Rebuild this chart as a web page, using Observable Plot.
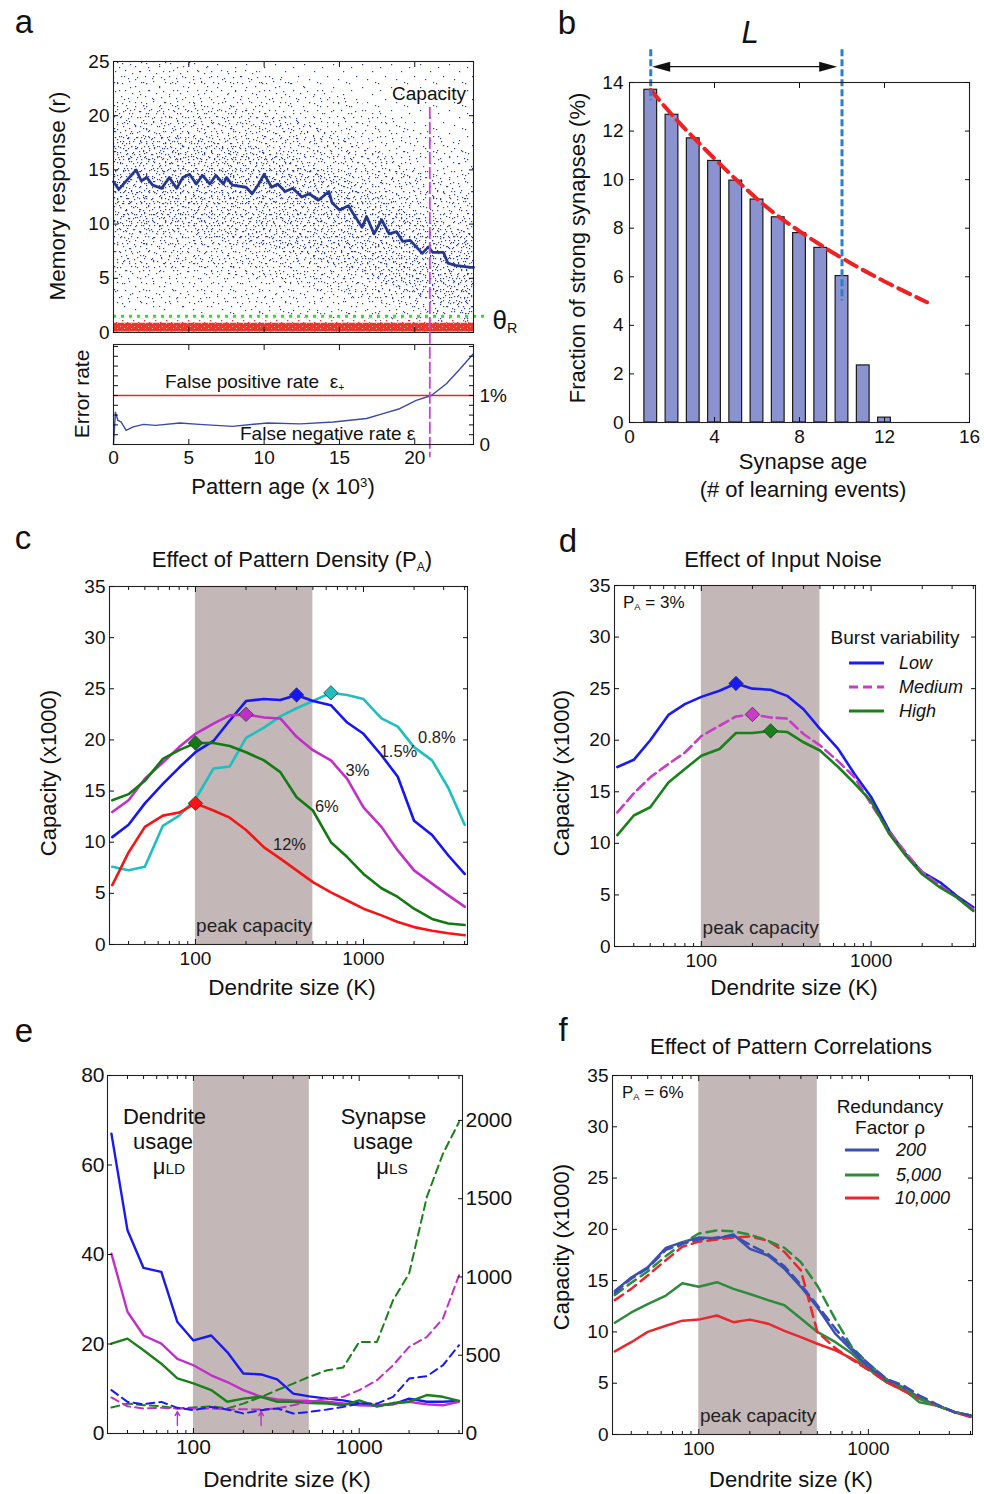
<!DOCTYPE html>
<html><head><meta charset="utf-8">
<script src="https://cdn.jsdelivr.net/npm/d3@7"></script>
<script src="https://cdn.jsdelivr.net/npm/@observablehq/plot@0.6"></script>
<style>
html,body{margin:0;padding:0;background:#fff}
#fig{position:relative;width:984px;height:1494px;overflow:hidden;font-family:"Liberation Sans",Arial,Helvetica,sans-serif;color:#111;background:#fff}
#fig svg.p{position:absolute}
.t{position:absolute;white-space:nowrap;line-height:1}
.t sub{font-size:55%;vertical-align:-0.3em;line-height:0}
.t sup{font-size:60%;vertical-align:0.55em;line-height:0}
</style></head><body>
<svg width="0" height="0" style="position:absolute">
<defs>
<pattern id="bV" width="29" height="23" patternUnits="userSpaceOnUse"><g fill="#2c3e9e">
<rect x="3" y="4" width="1.2" height="1.2"/><rect x="14" y="1" width="1.2" height="1.2"/><rect x="24" y="8" width="1.2" height="1.2"/><rect x="8" y="13" width="1.2" height="1.2"/><rect x="19" y="16" width="1.2" height="1.2"/><rect x="1" y="20" width="1.2" height="1.2"/><rect x="27" y="19" width="1.2" height="1.2"/></g></pattern>
<pattern id="bS" width="24" height="20" patternUnits="userSpaceOnUse"><g fill="#2c3e9e">
<rect x="2" y="3" width="1.2" height="1.2"/><rect x="9" y="1" width="1.2" height="1.2"/><rect x="15" y="6" width="1.2" height="1.2"/><rect x="21" y="2" width="1.2" height="1.2"/><rect x="5" y="10" width="1.2" height="1.2"/><rect x="12" y="13" width="1.2" height="1.2"/><rect x="19" y="11" width="1.2" height="1.2"/><rect x="1" y="16" width="1.2" height="1.2"/><rect x="8" y="18" width="1.2" height="1.2"/><rect x="17" y="17" width="1.2" height="1.2"/></g></pattern>
<pattern id="bM" width="17" height="15" patternUnits="userSpaceOnUse"><g fill="#2c3e9e">
<rect x="1" y="2" width="1.2" height="1.2"/><rect x="7" y="5" width="1.2" height="1.2"/><rect x="12" y="1" width="1.2" height="1.2"/><rect x="15" y="9" width="1.2" height="1.2"/><rect x="4" y="11" width="1.2" height="1.2"/><rect x="10" y="13" width="1.2" height="1.2"/><rect x="8" y="8" width="1.2" height="1.2"/></g></pattern>
<pattern id="bD" width="13" height="11" patternUnits="userSpaceOnUse"><g fill="#2c3e9e">
<rect x="3" y="2" width="1.2" height="1.2"/><rect x="9" y="4" width="1.2" height="1.2"/><rect x="1" y="7" width="1.2" height="1.2"/><rect x="6" y="9" width="1.2" height="1.2"/><rect x="11" y="9" width="1.2" height="1.2"/></g></pattern>
<pattern id="rS" width="11" height="9" patternUnits="userSpaceOnUse"><g fill="#e8372c">
<rect x="1" y="1" width="1.3" height="1.3"/><rect x="6" y="3" width="1.3" height="1.3"/><rect x="9" y="7" width="1.3" height="1.3"/><rect x="3" y="6" width="1.3" height="1.3"/></g></pattern>
<pattern id="rD" width="7" height="5" patternUnits="userSpaceOnUse"><rect width="7" height="5" fill="#e8372c"/><g fill="#f6b0a8">
<rect x="1" y="1" width="1" height="1"/><rect x="5" y="3" width="1" height="1"/></g></pattern>
</defs></svg>
<div id="fig"></div>
<script>
// ================= DATA =================
// Panel a: memory response vs pattern age (x10^3)
const meanAge = [0,0.35,1.5,1.84,2.2,2.6,3.2,3.7,4.2,4.6,5.05,5.5,5.9,6.4,6.8,7.3,7.5,7.9,8.8,9.2,9.6,10.0,10.5,10.9,11.4,11.9,12.5,13.0,13.6,14.3,14.5,15.0,15.6,15.9,16.5,16.8,17.3,17.8,18.3,18.8,19.2,19.7,20.5,20.9,21.2,21.9,22.2,22.7,23.7,23.9];
const meanResp = [13.9,13.2,15.0,14.0,14.3,13.6,13.3,14.3,13.3,14.3,14.6,13.7,14.5,13.7,14.5,13.7,14.3,13.6,13.4,12.8,13.6,14.6,13.4,13.7,13.0,13.3,12.5,12.8,12.2,13.0,12.0,11.3,11.7,11.0,9.7,10.7,9.1,10.4,9.1,9.3,8.4,8.5,7.3,7.9,7.4,7.4,6.4,6.2,6.0,6.0];
// scatter cloud extent (very sparse / sparse / medium / dense density bands)
const cloudAge  = [0, 5, 10, 15, 20, 23.9];
const vsparseLo = [2.0, 1.8, 1.5, 1.2, 0.9, 0.8];
const vsparseHi = [25, 25, 25, 25, 25, 25];
const sparseLo  = [2.5, 2.2, 1.8, 1.4, 1.0, 0.8];
const sparseHi  = [25, 25, 24, 22, 19, 17];
const midLo     = [5.5, 5.5, 5, 3.5, 2, 1];
const midHi     = [21, 21, 20.5, 18.5, 15, 13];
const denseLo   = [9, 9, 8, 6, 3.5, 1.5];
const denseHi   = [18, 18, 17, 14.5, 11, 9];
// unlearned-pattern (noise) responses
const noiseAge = [0, 23.9];
const noiseLo = [0.05, 0.05];
const noiseHi = [0.85, 0.85];
const noiseSparseHi = [1.3, 1.3];
const threshold = 1.5;       // θR
const capacityAge = 21.0;    // capacity (x10^3)
// error rates (%)
const errAge  = [0,0.13,0.29,0.5,0.84,1.3,2.0,2.8,4.4,5.7,7.9,10.2,12.4,14.6,16.8,17.9,19.0,20.1,21.1,22.1,23.0,23.86];
const errRate = [0,0.66,0.49,0.46,0.29,0.36,0.41,0.39,0.44,0.41,0.37,0.44,0.42,0.46,0.53,0.63,0.73,0.90,1.0,1.24,1.54,1.84];
const fpRate = 1;

// Panel b: fraction of strong synapses vs synapse age
const synAge = [1,2,3,4,5,6,7,8,9,10,11,12];
const strongFrac = [13.7,12.67,11.7,10.77,9.96,9.18,8.45,7.8,7.19,6.03,2.35,0.2];
const fitAge = [1, 2, 3.33, 4.9, 6.48, 8.05, 9.94, 11.98, 14.0];
const fitFrac = [13.7, 12.67, 11.45, 10.1, 8.85, 7.85, 6.8, 5.82, 4.95];
const Lrange = [1, 10];

// Panels c-f: dendrite sizes (K)
const K = [32,40,50,64,80,100,128,160,200,256,320,400,500,640,800,1000,1280,1600,2000,2560,3200,4000];
const peakBand = [100, 500];
// c: pattern density
const cap08 = [7.6,7.25,7.6,11.6,12.6,14.2,17.2,17.4,20.2,21.2,22.3,23.1,23.8,24.6,24.4,24.0,22.1,21.3,19.3,18.0,15.3,11.7];
const cap15 = [10.5,11.7,13.8,15.7,17.3,18.8,19.9,21.9,23.8,24.0,23.9,24.4,23.8,23.4,21.7,20.6,18.5,16.4,12.1,10.7,8.7,6.9];
const cap3  = [12.95,14.1,16.2,17.8,19.3,20.6,21.6,22.4,22.5,22.2,22.1,20.3,19.0,18.0,16.2,13.4,11.5,9.2,7.25,5.95,4.8,3.7];
const cap6  = [14.1,14.7,16.0,18.15,19.0,19.7,19.7,19.4,18.8,18.0,16.85,14.4,13.1,10.0,8.55,6.9,5.5,4.65,3.5,2.5,2.05,1.9];
const cap12 = [5.8,9.0,11.5,12.6,12.9,13.8,13.1,12.4,11.2,9.5,8.4,7.25,6.1,5.1,4.3,3.5,2.85,2.2,1.7,1.35,1.1,0.9];
const pctLabels = ["0.8%","1.5%","3%","6%","12%"];
const pctAtK = [2730, 1615, 920, 605, 363];
const pctAtV = [20.2, 18.8, 17.0, 13.5, 9.8];
// d: input noise
const lowVar  = [17.4,18.1,20.0,22.45,23.5,24.2,24.8,25.5,25.0,24.9,24.3,23.0,21.1,19.15,16.7,14.5,11.2,8.95,7.2,6.2,4.9,3.8];
const medVar  = [13.0,14.85,16.4,17.7,18.8,20.4,21.4,22.3,22.5,22.2,22.1,20.6,19.5,17.95,16.4,13.8,11.1,9.1,7.2,5.9,4.75,3.6];
const highVar = [10.8,12.7,13.5,15.9,17.2,18.5,19.15,20.7,20.7,20.9,20.8,19.8,19.0,17.4,15.8,14.1,10.9,8.8,7.0,5.7,4.75,3.45];
// e: dendrite usage (left axis) and synapse usage (right axis)
const dendBlue = [67.0,45.4,37.0,36.1,24.9,20.8,21.9,18.2,13.4,13.2,12.1,8.9,8.3,7.8,7.4,6.7,6.3,6.5,7.8,7.1,7.1,7.3];
const dendMag  = [40.2,27.2,21.9,20.1,16.7,15.25,13.0,11.5,9.7,8.2,7.6,7.4,7.3,7.1,6.7,6.3,6.2,6.7,7.1,6.5,6.3,7.1];
const dendGrn  = [20.1,21.2,18.6,15.6,12.3,11.2,9.7,7.1,7.8,8.2,7.1,7.1,6.8,6.7,6.3,7.4,6.0,6.8,7.1,8.6,8.2,7.3];
const synGrn   = [166,191,181,174,160,166,174,160,191,234,277,319,362,404,421,585,585,851,1021,1511,1787,1989];
const synMag   = [230,174,160,164,160,160,160,153,155,153,160,181,202,223,234,277,340,436,553,617,734,1011];
const synBlue  = [277,202,187,202,164,149,170,153,128,149,160,128,138,153,170,191,191,234,351,366,436,564];
const arrowK = [80, 256];
// f: pattern correlations
const red200 = [14.0,15.3,16.3,18.2,18.75,19.2,19.1,19.5,18.1,17.45,16.15,14.4,12.4,9.8,8.2,6.6,5.3,4.6,3.6,2.8,2.2,1.85];
const red5k  = [10.9,11.9,12.7,13.55,14.75,14.4,14.85,14.2,13.7,13.1,12.6,11.3,10.0,9.0,7.9,6.4,5.1,4.45,3.15,2.8,2.2,1.85];
const red10k = [8.1,9.0,10.0,10.6,11.1,11.2,11.6,10.95,11.2,10.8,10.1,9.5,8.85,8.2,7.4,6.4,5.1,4.3,3.5,2.8,2.2,1.7];
const red200d = [13.8,15.2,16.2,18.0,18.6,19.0,19.2,19.4,18.5,17.6,16.4,14.6,12.6,10.3,8.4,6.9,5.4,4.8,3.8,2.9,2.2,1.85];
const red5kd  = [13.6,14.8,15.9,17.4,18.6,19.6,19.9,19.8,19.5,18.9,18.2,16.8,14.5,11.2,8.5,6.9,5.4,4.6,3.5,2.8,2.2,1.85];
const red10kd = [13.1,14.2,15.5,17.0,18.3,18.8,19.0,19.2,19.3,18.9,17.8,16.0,10.0,8.4,7.3,6.3,5.1,4.3,3.5,2.8,2.2,1.75];

// ================= HELPERS =================
const FONT = '"Liberation Sans", Arial, Helvetica, sans-serif';
const fig = document.getElementById("fig");
const st = fs => ({fontFamily: FONT, fontSize: fs + "px", background: "transparent", color: "#111", overflow: "visible"});
const rows = (xs, ys) => xs.map((x, i) => ({x, y: ys[i]}));
const peak = (arr) => { const i = d3.maxIndex(arr); return [{x: K[i], y: arr[i]}]; };
const noLbl = () => "";
const fmtD = d3.format("d");
const logMinor = [40,50,60,70,80,90,200,300,400,500,600,700,800,900,2000,3000,4000];

function put(svg, left, top) {
  svg.classList.add("p"); svg.style.left = left + "px"; svg.style.top = top + "px"; fig.appendChild(svg);
}
function txt(html, x, y, size, o = {}) {
  const d = document.createElement("div"); d.className = "t"; d.innerHTML = html;
  d.style.left = x + "px"; d.style.top = y + "px"; d.style.fontSize = size + "px";
  const ax = o.anchor === "start" ? "0" : "-50%";
  d.style.transform = `translate(${ax},-50%)` + (o.rotate ? ` rotate(${o.rotate}deg)` : "");
  if (o.italic) d.style.fontStyle = "italic";
  fig.appendChild(d);
}
function legendLine(x1, x2, y, color, dash, w = 3) {
  const s = d3.create("svg").attr("width", x2 - x1 + 4).attr("height", 8)
    .style("position", "absolute").style("left", (x1 - 2) + "px").style("top", (y - 4) + "px");
  s.append("line").attr("x1", 2).attr("x2", x2 - x1 + 2).attr("y1", 4).attr("y2", 4)
    .attr("stroke", color).attr("stroke-width", w).attr("stroke-dasharray", dash || null);
  fig.appendChild(s.node());
}
function axes({xt, xf = noLbl, xm, yt, yf = noLbl, ym, yr = true, yrt, yrf = noLbl, T = 5, P = 4, PX}) {
  const a = [
    Plot.axisX({anchor: "bottom", ticks: xt, tickSize: -T, tickPadding: (PX ?? P) + T, tickFormat: xf, label: null}),
    Plot.axisX({anchor: "top", ticks: xt, tickSize: -T, tickFormat: noLbl, label: null}),
    Plot.axisY({anchor: "left", ticks: yt, tickSize: -T, tickPadding: P + T, tickFormat: yf, label: null})
  ];
  if (xm) a.push(
    Plot.axisX({anchor: "bottom", ticks: xm, tickSize: -3, tickFormat: noLbl, label: null}),
    Plot.axisX({anchor: "top", ticks: xm, tickSize: -3, tickFormat: noLbl, label: null}));
  if (ym) a.push(Plot.axisY({anchor: "left", ticks: ym, tickSize: -3, tickFormat: noLbl, label: null}));
  if (yr) a.push(Plot.axisY({anchor: "right", ticks: yrt || yt, tickSize: -T, tickPadding: P + T, tickFormat: yrf, label: null}));
  return a;
}
const frame = () => Plot.frame({stroke: "#222", strokeWidth: 1.1});
const bandMark = (fill = "#c4b7b7") => Plot.rect([{lo: peakBand[0], hi: peakBand[1]}], {x1: "lo", x2: "hi", fill});
const peakText = () => Plot.text(["peak capacity"], {x: Math.sqrt(peakBand[0] * peakBand[1]), frameAnchor: "bottom", dy: -13, fontSize: 19, fill: "#222"});

// ================= PANEL A =================
const cloud = cloudAge.map((age, i) => ({age, vLo: vsparseLo[i], vHi: vsparseHi[i], sLo: sparseLo[i], sHi: sparseHi[i], mLo: midLo[i], mHi: midHi[i], dLo: denseLo[i], dHi: denseHi[i]}));
const noise = noiseAge.map((age, i) => ({age, lo: noiseLo[i], hi: noiseHi[i], sp: noiseSparseHi[i]}));
const capDash = {stroke: "#d23ee0", strokeWidth: 1.8, strokeDasharray: "12,3"};
const A = Plot.plot({
  width: 530, height: 300, marginLeft: 113, marginRight: 57, marginTop: 21, marginBottom: 8,
  x: {domain: [0, 23.9]}, y: {domain: [0, 25]}, style: st(19),
  marks: [
    Plot.areaY(cloud, {x: "age", y1: "vLo", y2: "vHi", fill: "url(#bV)"}),
    Plot.areaY(cloud, {x: "age", y1: "sLo", y2: "sHi", fill: "url(#bS)"}),
    Plot.areaY(cloud, {x: "age", y1: "mLo", y2: "mHi", fill: "url(#bM)"}),
    Plot.areaY(cloud, {x: "age", y1: "dLo", y2: "dHi", fill: "url(#bD)"}),
    Plot.areaY(noise, {x: "age", y1: "lo", y2: "sp", fill: "url(#rS)"}),
    Plot.areaY(noise, {x: "age", y1: "lo", y2: "hi", fill: "url(#rD)"}),
    Plot.line(meanAge.map((age, i) => ({age, r: meanResp[i]})), {x: "age", y: "r", stroke: "#26388c", strokeWidth: 2.8}),
    Plot.ruleY([threshold], {x1: 0, x2: 24.8, stroke: "#2ee02e", strokeWidth: 3, strokeDasharray: "3,5"}),
    Plot.ruleX([capacityAge], {y1: 20.75, y2: 0, ...capDash}),
    frame(),
    ...axes({xt: [0, 5, 10, 15, 20], yt: [0, 5, 10, 15, 20, 25], yf: d => d})
  ]
});
put(A, 0, 40);

const E = Plot.plot({
  width: 530, height: 140, marginLeft: 113, marginRight: 57, marginTop: 14, marginBottom: 26,
  x: {domain: [0, 23.9]}, y: {domain: [0, 2.04]}, style: st(19),
  marks: [
    Plot.ruleY([fpRate], {stroke: "#e02a2a", strokeWidth: 1.3}),
    Plot.line(errAge.map((age, i) => ({age, e: errRate[i]})), {x: "age", y: "e", stroke: "#3a4aa6", strokeWidth: 1.4}),
    Plot.ruleX([capacityAge], {y1: 2.29, y2: -0.27, ...capDash}),
    frame(),
    ...axes({xt: [0, 5, 10, 15, 20], xf: d => d, yt: d3.range(0, 2.01, 0.2), yr: true, P: 3, PX: 6}),
    Plot.axisY({anchor: "right", ticks: [0, fpRate], tickSize: 0, tickPadding: 6, tickFormat: d => d === fpRate ? "1%" : "0", label: null})
  ]
});
put(E, 0, 330);

txt("a", 24, 21, 33);
txt("Memory response (r)", 58, 196, 22.5, {rotate: -90});
txt("Error rate", 81, 394, 21, {rotate: -90});
txt("Capacity", 429, 93, 19);
txt("False positive rate &nbsp;ε<sub>+</sub>", 165, 381, 19, {anchor: "start"});
txt("False negative rate ε<sub>_</sub>", 240, 433, 19, {anchor: "start"});
txt("θ<sub>R</sub>", 505, 320, 26);
txt("Pattern age (x 10<sup>3</sup>)", 283, 487, 22);

// ================= PANEL B =================
const headR = {draw(ctx) { ctx.moveTo(9, 0); ctx.lineTo(-9, -5); ctx.lineTo(-9, 5); ctx.closePath(); }};
const headL = {draw(ctx) { ctx.moveTo(-9, 0); ctx.lineTo(9, -5); ctx.lineTo(9, 5); ctx.closePath(); }};
const Lrows = [{age: Lrange[0], top: 15.35, bot: 13.25}, {age: Lrange[1], top: 15.35, bot: 5.0}];
const B = Plot.plot({
  width: 484, height: 450, marginLeft: 129, marginRight: 15, marginTop: 82, marginBottom: 28,
  x: {domain: [0, 16]}, y: {domain: [0, 14]}, style: st(19),
  marks: [
    Plot.rectY(synAge.map((age, i) => ({age, frac: strongFrac[i]})), {x1: d => d.age - 0.3, x2: d => d.age + 0.3, y: "frac", fill: "#8a93d0", stroke: "#1a1a1a", strokeWidth: 1.2}),
    Plot.line(fitAge.map((age, i) => ({age, frac: fitFrac[i]})), {x: "age", y: "frac", stroke: "#ee2222", strokeWidth: 4, strokeDasharray: "13,7", curve: "natural"}),
    Plot.ruleX(Lrows, {x: "age", y1: "top", y2: "bot", stroke: "#2a7fd0", strokeWidth: 3, strokeDasharray: "7,3"}),
    Plot.link([Lrange], {x1: d => d[0] + 0.45, x2: d => d[1] - 0.4, y1: 14.65, y2: 14.65, stroke: "#111", strokeWidth: 1.3}),
    Plot.dot([Lrange[0]], {x: d => d + 0.49, y: 14.65, symbol: headL, fill: "#111", stroke: "none"}),
    Plot.dot([Lrange[1]], {x: d => d - 0.65, y: 14.65, symbol: headR, fill: "#111", stroke: "none"}),
    frame(),
    ...axes({xt: [0, 4, 8, 12, 16], xf: d => d, yt: d3.range(0, 15, 2), yf: d => d, P: 6, PX: 7})
  ]
});
put(B, 500, 0);
txt("b", 567, 22, 33);
txt("<i>L</i>", 750, 32, 31);
txt("Fraction of strong synapses (%)", 578, 248, 22, {rotate: -90});
txt("Synapse age", 803, 462, 22);
txt("(# of learning events)", 803, 490, 22);

// ================= PANEL C =================
const colC = {c08: "#1fbfbf", c15: "#1515f5", c3: "#c030c8", c6: "#137a13", c12: "#f51515"};
const seriesC = [[cap08, colC.c08], [cap15, colC.c15], [cap3, colC.c3], [cap6, colC.c6], [cap12, colC.c12]];
const C = Plot.plot({
  width: 500, height: 400, marginLeft: 109, marginRight: 33, marginTop: 16, marginBottom: 26,
  x: {type: "log", domain: [30.8, 4160]}, y: {domain: [0, 35]}, style: st(19),
  marks: [
    bandMark(), peakText(),
    ...seriesC.map(([s, c]) => Plot.line(rows(K, s), {x: "x", y: "y", stroke: c, strokeWidth: 2.6})),
    ...seriesC.map(([s, c]) => Plot.dot(peak(s), {x: "x", y: "y", symbol: "diamond2", r: 6.5, fill: c, stroke: "#333", strokeWidth: 0.8})),
    Plot.text(pctLabels.map((t, i) => ({t, x: pctAtK[i], y: pctAtV[i]})), {x: "x", y: "y", text: "t", fontSize: 16.5, fill: "#222"}),
    frame(),
    ...axes({xt: [100, 1000], xf: fmtD, xm: logMinor, yt: d3.range(0, 36, 5), yf: d => d, PX: 7})
  ]
});
put(C, 0, 570);
txt("c", 23, 537, 33);
txt("Effect of Pattern Density (P<sub>A</sub>)", 292, 560, 22);
txt("Capacity (x1000)", 49, 773, 22, {rotate: -90});
txt("Dendrite size (K)", 292, 988, 22.5);

// ================= PANEL D =================
const colD = {low: "#1a1af5", med: "#c83cc8", high: "#1a801a"};
const D = Plot.plot({
  width: 484, height: 400, marginLeft: 114, marginRight: 9, marginTop: 15, marginBottom: 24,
  x: {type: "log", domain: [30.8, 4120]}, y: {domain: [0, 35]}, style: st(19),
  marks: [
    bandMark(), peakText(),
    Plot.line(rows(K, lowVar), {x: "x", y: "y", stroke: colD.low, strokeWidth: 2.6}),
    Plot.line(rows(K, medVar), {x: "x", y: "y", stroke: colD.med, strokeWidth: 2.6, strokeDasharray: "10,5"}),
    Plot.line(rows(K, highVar), {x: "x", y: "y", stroke: colD.high, strokeWidth: 2.6}),
    Plot.dot(peak(lowVar), {x: "x", y: "y", symbol: "diamond2", r: 6.5, fill: colD.low, stroke: "#333", strokeWidth: 0.8}),
    Plot.dot(peak(medVar), {x: "x", y: "y", symbol: "diamond2", r: 6.5, fill: colD.med, stroke: "#333", strokeWidth: 0.8}),
    Plot.dot(peak(highVar), {x: "x", y: "y", symbol: "diamond2", r: 6.5, fill: colD.high, stroke: "#333", strokeWidth: 0.8}),
    frame(),
    ...axes({xt: [100, 1000], xf: fmtD, xm: logMinor, yt: d3.range(0, 36, 5), yf: d => d, PX: 7})
  ]
});
put(D, 500, 570);
txt("d", 568, 540, 33);
txt("Effect of Input Noise", 783, 560, 22);
txt("Capacity (x1000)", 562, 773, 22, {rotate: -90});
txt("Dendrite size (K)", 794, 988, 22.5);
txt("P<sub>A</sub> = 3%", 623, 602, 17, {anchor: "start"});
txt("Burst variability", 895, 637, 19);
legendLine(849, 884, 663, colD.low, null);
legendLine(849, 884, 687, colD.med, "9,5");
legendLine(849, 884, 711, colD.high, null);
txt("Low", 899, 663, 18, {anchor: "start", italic: true});
txt("Medium", 899, 687, 18, {anchor: "start", italic: true});
txt("High", 899, 711, 18, {anchor: "start", italic: true});

// ================= PANEL E =================
const colE = {blue: "#1a1aee", mag: "#c030c8", green: "#1a801a"};
const synMax = 2287;
const EL = Plot.plot({
  width: 530, height: 400, marginLeft: 107, marginRight: 68, marginTop: 15, marginBottom: 27,
  x: {type: "log", domain: [30.3, 4200]}, y: {domain: [0, 80]}, style: st(21),
  marks: [
    bandMark(),
    Plot.line(rows(K, dendBlue), {x: "x", y: "y", stroke: colE.blue, strokeWidth: 2.4}),
    Plot.line(rows(K, dendMag), {x: "x", y: "y", stroke: colE.mag, strokeWidth: 2.4}),
    Plot.line(rows(K, dendGrn), {x: "x", y: "y", stroke: colE.green, strokeWidth: 2.4}),
    Plot.arrow(arrowK, {x1: d => d, x2: d => d, y1: 1.8, y2: 4.9, stroke: colE.mag, strokeWidth: 1.4, headLength: 6}),
    frame(),
    ...axes({xt: [100, 1000], xf: fmtD, xm: logMinor, yt: [0, 20, 40, 60, 80], yf: d => d, yr: false, P: 3, PX: 6})
  ]
});
put(EL, 0, 1060);
const ER = Plot.plot({
  width: 530, height: 400, marginLeft: 107, marginRight: 68, marginTop: 15, marginBottom: 27,
  x: {type: "log", domain: [30.3, 4200], axis: null}, y: {domain: [0, synMax]}, style: st(21),
  marks: [
    Plot.line(rows(K, synGrn), {x: "x", y: "y", stroke: colE.green, strokeWidth: 2, strokeDasharray: "8,5"}),
    Plot.line(rows(K, synMag), {x: "x", y: "y", stroke: colE.mag, strokeWidth: 2, strokeDasharray: "8,5"}),
    Plot.line(rows(K, synBlue), {x: "x", y: "y", stroke: colE.blue, strokeWidth: 2, strokeDasharray: "8,5"}),
    Plot.axisY({anchor: "right", ticks: [0, 500, 1000, 1500, 2000], tickSize: -5, tickPadding: 8, tickFormat: fmtD, label: null})
  ]
});
put(ER, 0, 1060);
txt("e", 24, 1030, 33);
txt("Dendrite", 164.5, 1117, 22);
txt("usage", 163, 1142, 22);
txt("μ<span style='font-size:70%'>LD</span>", 169, 1167, 22);
txt("Synapse", 383.5, 1117, 22);
txt("usage", 383, 1142, 22);
txt("μ<span style='font-size:70%'>LS</span>", 392, 1167, 22);
txt("Dendrite size (K)", 287, 1480, 22.5);

// ================= PANEL F =================
const colF = {blue: "#3c4fb2", green: "#2e8b3e", red: "#e8282e"};
const F = Plot.plot({
  width: 484, height: 400, marginLeft: 112, marginRight: 12, marginTop: 15, marginBottom: 26,
  x: {type: "log", domain: [31, 4110]}, y: {domain: [0, 35]}, style: st(19),
  marks: [
    bandMark(), peakText(),
    Plot.line(rows(K, red10k), {x: "x", y: "y", stroke: colF.red, strokeWidth: 2.5}),
    Plot.line(rows(K, red5k), {x: "x", y: "y", stroke: colF.green, strokeWidth: 2.5}),
    Plot.line(rows(K, red200), {x: "x", y: "y", stroke: colF.blue, strokeWidth: 2.5}),
    Plot.line(rows(K, red10kd), {x: "x", y: "y", stroke: colF.red, strokeWidth: 2.5, strokeDasharray: "10,6"}),
    Plot.line(rows(K, red5kd), {x: "x", y: "y", stroke: colF.green, strokeWidth: 2.5, strokeDasharray: "10,6"}),
    Plot.line(rows(K, red200d), {x: "x", y: "y", stroke: colF.blue, strokeWidth: 2.5, strokeDasharray: "10,6"}),
    frame(),
    ...axes({xt: [100, 1000], xf: fmtD, xm: logMinor, yt: d3.range(0, 36, 5), yf: d => d, PX: 7})
  ]
});
put(F, 500, 1060);
txt("f", 563, 1029, 33);
txt("Effect of Pattern Correlations", 791, 1047, 22);
txt("Capacity (x1000)", 562, 1247, 22, {rotate: -90});
txt("Dendrite size (K)", 791, 1480, 22);
txt("P<sub>A</sub> = 6%", 622, 1092, 17, {anchor: "start"});
txt("Redundancy", 890, 1106, 19);
txt("Factor ρ", 890, 1127, 19);
legendLine(845, 879, 1150, colF.blue, null);
legendLine(845, 879, 1175, colF.green, null);
legendLine(845, 879, 1198, colF.red, null);
txt("200", 896, 1150, 18, {anchor: "start", italic: true});
txt("5,000", 896, 1175, 18, {anchor: "start", italic: true});
txt("10,000", 895, 1198, 18, {anchor: "start", italic: true});
</script></body></html>
